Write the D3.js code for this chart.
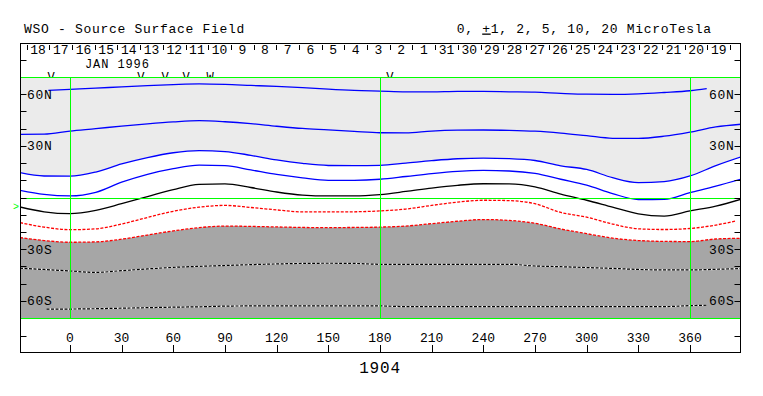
<!DOCTYPE html>
<html>
<head>
<meta charset="utf-8">
<script src="https://d3js.org/d3.v7.min.js"></script>
<style>
  body { margin: 0; background: #fff; }
  svg text { font-family: "Liberation Mono", "DejaVu Sans Mono", monospace; }
</style>
</head>
<body>
<div id="chart"></div>
<script>
// Carrington longitude grid (deg) and contour latitudes (deg)
const lon = [-29, -15, 0, 15, 30, 45, 60, 75, 90, 105, 120, 135, 150, 165, 180,
  195, 210, 225, 240, 255, 270, 285, 300, 315, 330, 345, 360, 375, 390];

const latP5 = [36.7, 36.8, 38.6, 40.0, 41.5, 42.8, 43.9, 44.6, 44.0, 42.9, 41.4, 40.1, 39.3, 38.4, 37.6,
  37.5, 38.6, 39.1, 39.2, 39.0, 38.5, 37.4, 35.9, 34.4, 34.3, 35.6, 38.0, 41.0, 42.6];
const latP2 = [14.4, 12.5, 12.4, 14.8, 19.5, 23.2, 26.0, 27.2, 26.7, 24.5, 21.8, 19.8, 18.6, 18.5, 18.7,
  20.0, 21.4, 22.5, 22.9, 22.6, 21.5, 18.4, 16.3, 11.5, 8.6, 9.2, 12.5, 18.5, 23.7];
const latP1 = [4.2, 1.8, 0.9, 3.0, 8.9, 13.5, 16.8, 18.8, 18.5, 16.0, 13.4, 11.4, 10.0, 10.0, 10.6,
  12.2, 13.9, 15.2, 15.7, 15.4, 14.0, 10.6, 7.2, 2.3, -1.2, -1.1, 2.8, 6.6, 10.8];
const lat0 = [-5.5, -8.3, -9.4, -7.5, -3.6, 0.5, 4.6, 7.6, 7.9, 5.8, 3.2, 1.4, 0.9, 0.9, 1.7,
  3.5, 5.5, 7.1, 8.0, 7.9, 6.2, 2.0, -1.6, -5.6, -9.5, -10.8, -7.8, -5.0, -0.9];
const latM2 = [-23.3, -25.0, -26.0, -25.8, -24.2, -21.8, -19.4, -17.5, -16.6, -16.8, -17.1, -17.4, -17.5, -17.4, -17.2,
  -16.6, -15.2, -13.8, -12.8, -13.3, -15.0, -18.3, -21.0, -23.6, -25.0, -25.5, -25.6, -24.1, -23.7];
const latM5 = [-41.1, -41.8, -42.7, -43.5, -42.5, -41.5, -40.6, -40.0, -39.5, -39.0, -38.6, -38.3, -38.2, -38.3, -38.8,
  -38.8, -38.8, -38.8, -38.8, -38.8, -39.8, -40.2, -40.7, -41.2, -41.8, -42.1, -42.1, -41.7, -41.3];

const lonM1 = [-29, -15, 0, 15, 30, 45, 60, 75, 90, 105, 120, 135, 150, 165, 180,
  195, 210, 225, 240, 255, 270, 285, 300, 315, 330, 345, 360, 375, 386.9];
const latM1 = [-14.6, -17.2, -18.7, -18.2, -15.4, -11.6, -8.0, -5.6, -4.6, -5.8, -7.2, -8.4, -8.4, -8.3, -7.8,
  -6.7, -4.6, -2.7, -1.6, -1.8, -3.6, -8.7, -11.4, -15.4, -18.2, -18.6, -18.0, -16.0, -13.6];

const lonP10 = [-12.6, 0, 15, 30, 45, 60, 75, 90, 105, 120, 135, 150, 165, 180,
  195, 210, 225, 240, 255, 270, 285, 300, 315, 330, 345, 360, 369.7];
const latP10 = [62.2, 62.8, 63.5, 64.3, 65.0, 65.6, 66.0, 65.7, 65.1, 64.5, 63.8, 62.9, 62.2, 61.8,
  61.4, 61.4, 61.7, 61.6, 61.4, 61.2, 60.5, 60.0, 59.9, 60.2, 61.0, 62.0, 63.2];

const lonM10 = [-13.6, 0, 15, 30, 45, 60, 75, 90, 105, 120, 135, 150, 165, 180,
  195, 210, 225, 240, 255, 270, 285, 300, 315, 330, 345, 360, 369.7];
const latM10 = [-64.9, -64.8, -64.6, -64.3, -64.0, -63.7, -63.5, -63.1, -63.0, -63.0, -63.0, -63.0, -63.0, -63.0,
  -63.4, -63.4, -63.4, -63.4, -63.4, -63.4, -63.4, -63.4, -63.4, -63.4, -63.4, -62.8, -62.6];

// axis labels
const lonTicks = [0, 30, 60, 90, 120, 150, 180, 210, 240, 270, 300, 330, 360];
const latTicks = [60, 50, 40, 30, 20, 10, 0, -10, -20, -30, -40, -50, -60];
const latLabels = { 60: "60N", 30: "30N", "-30": "30S", "-60": "60S" };
const dayLabels = ["18", "17", "16", "15", "14", "13", "12", "11", "10", "9", "8", "7", "6", "5", "4", "3",
  "2", "1", "31", "30", "29", "28", "27", "26", "25", "24", "23", "22", "21", "20", "19"];
const markLon = [-11, 41.2, 55.2, 67.4, 81.3, 185.8];
const markText = ["V", "V", "V", "V", "W", "V"];
const b0 = -5.3;

const W = 763, H = 396;
const frame = { left: 20, right: 741, top: 43, bottom: 353 };
const plotTop = 77, plotBottom = 318;
const dayLon0 = -25.1, dayStep = 13.175;
const fs = "13px", ls = "0.7px";

const svg = d3.select("#chart").append("svg")
  .attr("width", W).attr("height", H)
  .style("display", "block");

svg.append("rect").attr("width", W).attr("height", H).attr("fill", "#fff");

const x = d3.scaleLinear().domain([-29, 389.6]).range([frame.left, frame.right]);
const y = d3.scaleLinear().domain([70, -70]).range([plotTop, plotBottom]);

const pts = (lo, la) => lo.map((v, i) => [v, la[i]]);
const crisp = v => Math.round(v) + 0.5;

// header
svg.append("text").attr("x", 24).attr("y", 32.5)
  .style("font-size", fs).style("letter-spacing", ls)
  .text("WSO - Source Surface Field");
const hdr = svg.append("text").attr("x", 456.7).attr("y", 32.5)
  .style("font-size", fs).style("letter-spacing", ls);
hdr.append("tspan").text("0, ");
hdr.append("tspan").style("text-decoration", "underline").text("+");
hdr.append("tspan").text("1, 2, 5, 10, 20 MicroTesla");

// observation marks (partly hidden by the plot)
svg.selectAll(".mark").data(markLon).join("text")
  .attr("class", "mark")
  .attr("x", d => x(d)).attr("y", 81)
  .attr("text-anchor", "middle")
  .style("font-size", "12px")
  .text((d, i) => markText[i]);

// plot area
const defs = svg.append("defs");
defs.append("clipPath").attr("id", "plotclip")
  .append("rect")
  .attr("x", frame.left).attr("y", plotTop)
  .attr("width", frame.right - frame.left).attr("height", plotBottom - plotTop);

const plot = svg.append("g").attr("clip-path", "url(#plotclip)");

plot.append("rect")
  .attr("x", frame.left).attr("y", plotTop)
  .attr("width", frame.right - frame.left).attr("height", plotBottom - plotTop)
  .attr("fill", "#fff");

const curve = d3.curveMonotoneX;

plot.append("path")
  .datum(pts(lon, latP2))
  .attr("fill", "#ebebeb")
  .attr("d", d3.area().x(d => x(d[0])).y0(plotTop).y1(d => y(d[1])).curve(curve));

plot.append("path")
  .datum(pts(lon, latM2))
  .attr("fill", "#a6a6a6")
  .attr("d", d3.area().x(d => x(d[0])).y0(plotBottom).y1(d => y(d[1])).curve(curve));

const line = d3.line().x(d => x(d[0])).y(d => y(d[1])).curve(curve);

// positive contours
[[lonP10, latP10], [lon, latP5], [lon, latP2], [lon, latP1]].forEach(c => {
  plot.append("path").datum(pts(c[0], c[1]))
    .attr("fill", "none").attr("stroke", "#0000ff").attr("stroke-width", 1.3)
    .attr("d", line);
});

// neutral line
plot.append("path").datum(pts(lon, lat0))
  .attr("fill", "none").attr("stroke", "#000").attr("stroke-width", 1.3)
  .attr("d", line);

// negative contours
[[lonM1, latM1], [lon, latM2]].forEach(c => {
  plot.append("path").datum(pts(c[0], c[1]))
    .attr("fill", "none").attr("stroke", "#ff0000").attr("stroke-width", 1.3)
    .attr("stroke-dasharray", "3,1.5")
    .attr("d", line);
});

[[lon, latM5], [lonM10, latM10]].forEach(c => {
  plot.append("path").datum(pts(c[0], c[1]))
    .attr("fill", "none").attr("stroke", "#fff").attr("stroke-width", 1.2)
    .attr("d", line);
  plot.append("path").datum(pts(c[0], c[1]))
    .attr("fill", "none").attr("stroke", "#000").attr("stroke-width", 1.2)
    .attr("stroke-dasharray", "3,1.5")
    .attr("d", line);
});

// green reference lines
[0, 180, 360].forEach(l => {
  svg.append("line")
    .attr("x1", crisp(x(l))).attr("x2", crisp(x(l)))
    .attr("y1", plotTop).attr("y2", plotBottom)
    .attr("stroke", "#00ff00").attr("stroke-width", 1)
    .attr("shape-rendering", "crispEdges");
});
[70, 0, -70].forEach(l => {
  svg.append("line")
    .attr("x1", frame.left).attr("x2", frame.right)
    .attr("y1", crisp(y(l))).attr("y2", crisp(y(l)))
    .attr("stroke", "#00ff00").attr("stroke-width", 1)
    .attr("shape-rendering", "crispEdges");
});

// latitude ticks, both sides
const tickLen = 6.5;
latTicks.forEach(t => {
  const yy = crisp(y(t));
  svg.append("line")
    .attr("x1", frame.left).attr("x2", frame.left + tickLen)
    .attr("y1", yy).attr("y2", yy).attr("stroke", "#000");
  svg.append("line")
    .attr("x1", frame.right - tickLen).attr("x2", frame.right)
    .attr("y1", yy).attr("y2", yy).attr("stroke", "#000");
  if (latLabels[t]) {
    svg.append("text").attr("x", frame.left + tickLen + 0.5).attr("y", y(t) + 4.5)
      .style("font-size", fs).style("letter-spacing", ls).text(latLabels[t]);
    svg.append("text").attr("x", frame.right - tickLen).attr("y", y(t) + 4.5)
      .attr("text-anchor", "end")
      .style("font-size", fs).style("letter-spacing", ls).text(latLabels[t]);
  }
});

// panel ticks on the frame
[(frame.top + plotTop) / 2, (plotBottom + frame.bottom) / 2].forEach(v => {
  const yy = crisp(v);
  svg.append("line").attr("x1", frame.left).attr("x2", frame.left + tickLen)
    .attr("y1", yy).attr("y2", yy).attr("stroke", "#000");
  svg.append("line").attr("x1", frame.right - tickLen).attr("x2", frame.right)
    .attr("y1", yy).attr("y2", yy).attr("stroke", "#000");
});

// B0 marker
svg.append("text").attr("x", 19).attr("y", y(b0) + 3.5)
  .attr("text-anchor", "end").attr("fill", "#00ff00")
  .style("font-size", "10px").text(">");

// longitude axis
const xAxis = svg.append("g");
lonTicks.forEach(t => {
  xAxis.append("line")
    .attr("x1", crisp(x(t))).attr("x2", crisp(x(t)))
    .attr("y1", frame.bottom - 8).attr("y2", frame.bottom)
    .attr("stroke", "#000");
  xAxis.append("text")
    .attr("x", x(t)).attr("y", 342)
    .attr("text-anchor", "middle")
    .style("font-size", fs)
    .text(t);
});

// day of month row
d3.range(dayLabels.length + 1).forEach(k => {
  const xx = crisp(x(dayLon0 + k * dayStep));
  svg.append("line").attr("x1", xx).attr("x2", xx)
    .attr("y1", frame.top + 2).attr("y2", frame.top + 7).attr("stroke", "#000");
});
svg.selectAll(".day").data(dayLabels).join("text")
  .attr("class", "day")
  .attr("x", (d, k) => x(dayLon0 + (k + 0.5) * dayStep))
  .attr("y", 53.5)
  .attr("text-anchor", "middle")
  .style("font-size", fs)
  .text(d => d);

svg.append("text").attr("x", 85).attr("y", 67.5)
  .style("font-size", "12px").style("letter-spacing", "0.9px").text("JAN 1996");

// rotation number
svg.append("text").attr("x", x(180)).attr("y", 372.5)
  .attr("text-anchor", "middle")
  .style("font-size", "16px").style("letter-spacing", "0.8px").text("1904");

// frame
svg.append("rect")
  .attr("x", frame.left + 0.5).attr("y", frame.top + 0.5)
  .attr("width", frame.right - frame.left - 1).attr("height", frame.bottom - frame.top - 1)
  .attr("fill", "none").attr("stroke", "#000");
</script>
</body>
</html>
